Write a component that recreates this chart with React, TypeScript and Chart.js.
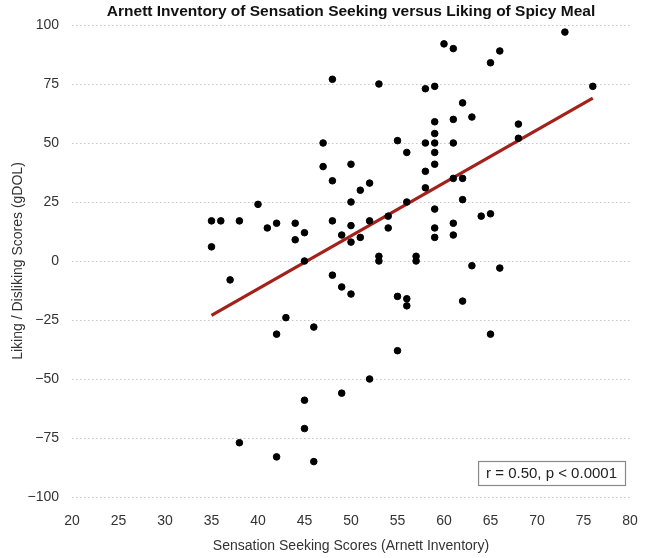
import React, { useEffect, useRef } from "react";
import { Chart, registerables } from "chart.js";

Chart.register(...registerables);

// Sensation seeking score (x) and liking/disliking score (y)
const sensationScores: number[] = [
  48, 53, 47, 55, 56, 47, 50, 48, 52, 51, 40, 50, 56, 35, 36, 38, 42, 44, 41, 45,
  44, 48, 50, 52, 54, 54, 49, 50, 51, 35, 53, 53, 45,
  73, 60, 61, 66, 65, 58, 59, 76, 62, 59, 61, 63, 68, 68, 59, 58, 59, 61, 59, 59,
  58, 58, 61, 62, 62, 59, 64, 65, 61, 59, 59, 61, 57, 57, 63, 66,
  37, 48, 49, 50, 55, 56, 56, 43, 42, 46, 55, 52, 49, 45, 45, 38, 42, 46, 62, 65,
];
const likingScores: number[] = [
  77, 75, 50, 51, 46, 40, 41, 34, 33, 30, 24, 25, 25, 17, 17, 17, 16, 16, 14, 12,
  9, 17, 15, 17, 19, 14, 11, 8, 10, 6, 2, 0, 0,
  97, 92, 90, 89, 84, 73, 74, 74, 67, 59, 60, 61, 58, 52, 54, 50, 50, 50, 46, 41,
  38, 31, 35, 35, 26, 22, 19, 20, 16, 14, 10, 11, 2, 0, -2, -3,
  -8, -6, -11, -14, -15, -16, -19, -24, -31, -28, -38, -50, -56, -59, -71, -77, -83, -85, -17, -31,
];

// Fitted regression line endpoints
const fitX: number[] = [35, 76];
const fitY: number[] = [-23, 69];

const xTicks: number[] = [20, 25, 30, 35, 40, 45, 50, 55, 60, 65, 70, 75, 80];
const yTicks: number[] = [-100, -75, -50, -25, 0, 25, 50, 75, 100];

const titleText = "Arnett Inventory of Sensation Seeking versus Liking of Spicy Meal";
const xTitle = "Sensation Seeking Scores (Arnett Inventory)";
const yTitle = "Liking / Disliking Scores (gDOL)";
const statText = "r = 0.50, p < 0.0001";

const FONT = "'Liberation Sans', Arial, Helvetica, sans-serif";

export default function App() {
  const ref = useRef<HTMLCanvasElement | null>(null);

  useEffect(() => {
    if (!ref.current) return;
    const points = sensationScores.map((x, i) => ({ x, y: likingScores[i] }));
    const fit = fitX.map((x, i) => ({ x, y: fitY[i] }));

    const statBox = {
      id: "statBox",
      afterDraw(chart: any) {
        const ctx = chart.ctx;
        const xs = chart.scales.x;
        const ys = chart.scales.y;
        ctx.save();
        ctx.font = `15px ${FONT}`;
        const w = ctx.measureText(statText).width;
        const right = xs.right - 5;
        const bottom = ys.bottom - 12;
        const boxW = w + 16;
        const boxH = 24;
        ctx.fillStyle = "#ffffff";
        ctx.fillRect(right - boxW, bottom - boxH, boxW, boxH);
        ctx.strokeStyle = "#8a8a8a";
        ctx.lineWidth = 1.2;
        ctx.strokeRect(right - boxW + 0.5, bottom - boxH + 0.5, boxW, boxH);
        ctx.fillStyle = "#222";
        ctx.textBaseline = "middle";
        ctx.textAlign = "left";
        ctx.fillText(statText, right - boxW + 8, bottom - boxH / 2 + 1);
        ctx.restore();
      },
    };

    const chart = new Chart(ref.current, {
      type: "scatter",
      data: {
        datasets: [
          {
            label: "Scores",
            data: points,
            backgroundColor: "#000",
            borderColor: "#000",
            pointRadius: 3.3,
            pointHoverRadius: 3.3,
            order: 1,
          },
          {
            type: "line",
            label: "Fit",
            data: fit,
            borderColor: "#a3211a",
            borderWidth: 3.2,
            pointRadius: 0,
            showLine: true,
            fill: false,
            order: 2,
          } as any,
        ],
      },
      options: {
        animation: false,
        responsive: false,
        maintainAspectRatio: false,
        devicePixelRatio: 1,
        layout: { padding: { left: 0, right: 17, top: 0, bottom: 0 } },
        plugins: {
          legend: { display: false },
          tooltip: { enabled: false },
          title: {
            display: true,
            text: titleText,
            fullSize: false,
            color: "#111",
            font: { family: FONT, size: 15.5, weight: "bold" },
            padding: { top: 2.5, bottom: 3.9 },
          },
        },
        scales: {
          x: {
            type: "linear",
            min: 20,
            max: 80,
            afterBuildTicks: (s: any) => {
              s.ticks = xTicks.map((v) => ({ value: v }));
            },
            afterFit: (s: any) => {
              s.height = 61;
              s.paddingLeft = 0;
              s.paddingRight = 0;
            },
            grid: { display: false, drawTicks: false },
            border: { display: false },
            ticks: {
              padding: 16,
              color: "#333",
              font: { family: FONT, size: 14 },
              maxRotation: 0,
              autoSkip: false,
            },
            title: {
              display: true,
              text: xTitle,
              color: "#333",
              font: { family: FONT, size: 14 },
              padding: { top: 0, bottom: 3.5 },
            },
          },
          y: {
            type: "linear",
            min: -100,
            max: 100,
            afterBuildTicks: (s: any) => {
              s.ticks = yTicks.map((v) => ({ value: v }));
            },
            afterFit: (s: any) => {
              s.width = 72;
              s.paddingTop = 0;
              s.paddingBottom = 0;
            },
            grid: { display: true, drawTicks: false, color: "#c4c4c4", lineWidth: 1 },
            border: { display: false, dash: [1.5, 2.5] },
            ticks: {
              padding: 13,
              color: "#333",
              font: { family: FONT, size: 14 },
              autoSkip: false,
              callback: (v: any) => (Number(v) < 0 ? "\u2212" + Math.abs(Number(v)) : String(v)),
            },
            title: {
              display: true,
              text: yTitle,
              color: "#333",
              font: { family: FONT, size: 14 },
              padding: { top: 10, bottom: 0 },
            },
          },
        },
      },
      plugins: [statBox],
    });
    return () => chart.destroy();
  }, []);

  return (
    <div style={{ position: "absolute", left: 0, top: 0, width: 647, height: 558, background: "#fff" }}>
      <canvas ref={ref} width={647} height={558} style={{ display: "block", width: 647, height: 558 }} />
    </div>
  );
}
